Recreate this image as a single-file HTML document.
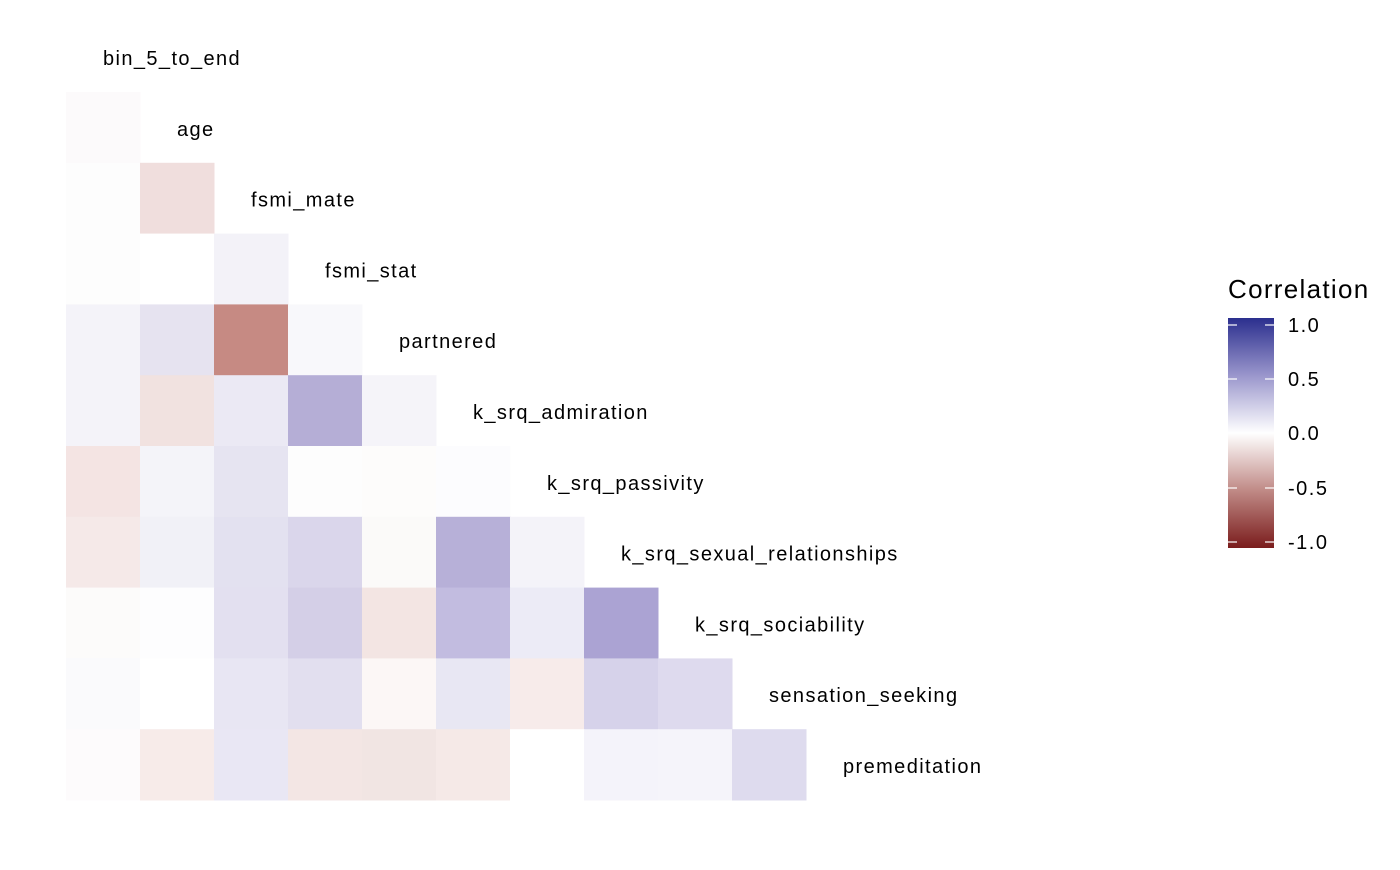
<!DOCTYPE html>
<html><head><style>
body{margin:0;background:#fff;width:1400px;height:865px;overflow:hidden;font-family:"Liberation Sans",Arial,sans-serif}
</style></head><body>
<svg width="1400" height="865" xmlns="http://www.w3.org/2000/svg" font-family="Liberation Sans, Arial, sans-serif">
<defs><linearGradient id="g" x1="0" y1="0" x2="0" y2="1">
<stop offset="0" stop-color="#2b2f8e"/><stop offset="0.25" stop-color="#9a96cc"/><stop offset="0.5" stop-color="#ffffff"/><stop offset="0.75" stop-color="#c08a86"/><stop offset="1" stop-color="#7a1c1c"/></linearGradient></defs>
<g id="cells"></g>
<g font-size="20" fill="#000" id="labels" letter-spacing="1.4"></g>
<text x="1228" y="298" font-size="26" letter-spacing="1.3">Correlation</text>
<rect x="1228" y="318" width="46" height="230" fill="url(#g)"/>
<g stroke="#fff" stroke-width="1.2">
<line x1="1228" y1="325" x2="1237" y2="325"/><line x1="1265" y1="325" x2="1274" y2="325"/>
<line x1="1228" y1="379" x2="1237" y2="379"/><line x1="1265" y1="379" x2="1274" y2="379"/>
<line x1="1228" y1="433" x2="1237" y2="433"/><line x1="1265" y1="433" x2="1274" y2="433"/>
<line x1="1228" y1="488" x2="1237" y2="488"/><line x1="1265" y1="488" x2="1274" y2="488"/>
<line x1="1228" y1="542" x2="1237" y2="542"/><line x1="1265" y1="542" x2="1274" y2="542"/>
</g>
<g font-size="20" fill="#000" letter-spacing="1.5">
<text x="1288" y="332">1.0</text><text x="1288" y="386">0.5</text><text x="1288" y="440">0.0</text><text x="1288" y="495">-0.5</text><text x="1288" y="549">-1.0</text>
</g>
</svg>
<script>
var rows=[
["#fcfafb"],
["#fdfdfd","#f0dedd"],
["#fdfdfd","#ffffff","#f3f2f8"],
["#f4f3f9","#e6e3f0","#c68a83","#f8f8fb"],
["#f4f3f9","#f1e2e0","#ebe9f4","#b5aed6","#f5f4f9"],
["#f4e4e3","#f4f4f9","#e6e4f1","#fdfdfd","#fdfcfb","#fcfcfe"],
["#f5e9e8","#f1f1f7","#e3e1f0","#dad6eb","#fbfaf9","#b7b0d8","#f4f3f9"],
["#fcfbfa","#fdfdfe","#e3e0f0","#d4cfe7","#f3e5e3","#c2bce0","#ecebf6","#aba3d3"],
["#fafafc","#ffffff","#e8e6f3","#e2dfef","#fcf7f6","#e8e7f3","#f7ebea","#d6d2ea","#dedaee"],
["#fdfbfc","#f7ebe9","#e9e7f4","#f3e6e4","#f1e5e3","#f5e9e7","#ffffff","#f4f3fa","#f5f4fa","#dedbee"]];
var labs=["bin_5_to_end","age","fsmi_mate","fsmi_stat","partnered","k_srq_admiration","k_srq_passivity","k_srq_sexual_relationships","k_srq_sociability","sensation_seeking","premeditation"];
var ns="http://www.w3.org/2000/svg",c=document.getElementById("cells"),l=document.getElementById("labels");
var cw=74,rh=70.8,x0=66,y0=92;
rows.forEach(function(r,i){r.forEach(function(col,j){var e=document.createElementNS(ns,"rect");
e.setAttribute("x",x0+j*cw);e.setAttribute("y",y0+i*rh);e.setAttribute("width",cw+0.5);e.setAttribute("height",rh+0.5);e.setAttribute("fill",col);c.appendChild(e);});});
labs.forEach(function(t,i){var e=document.createElementNS(ns,"text");e.setAttribute("x",103+i*74);e.setAttribute("y",65+i*70.8);e.textContent=t;l.appendChild(e);});
</script>
</body></html>
